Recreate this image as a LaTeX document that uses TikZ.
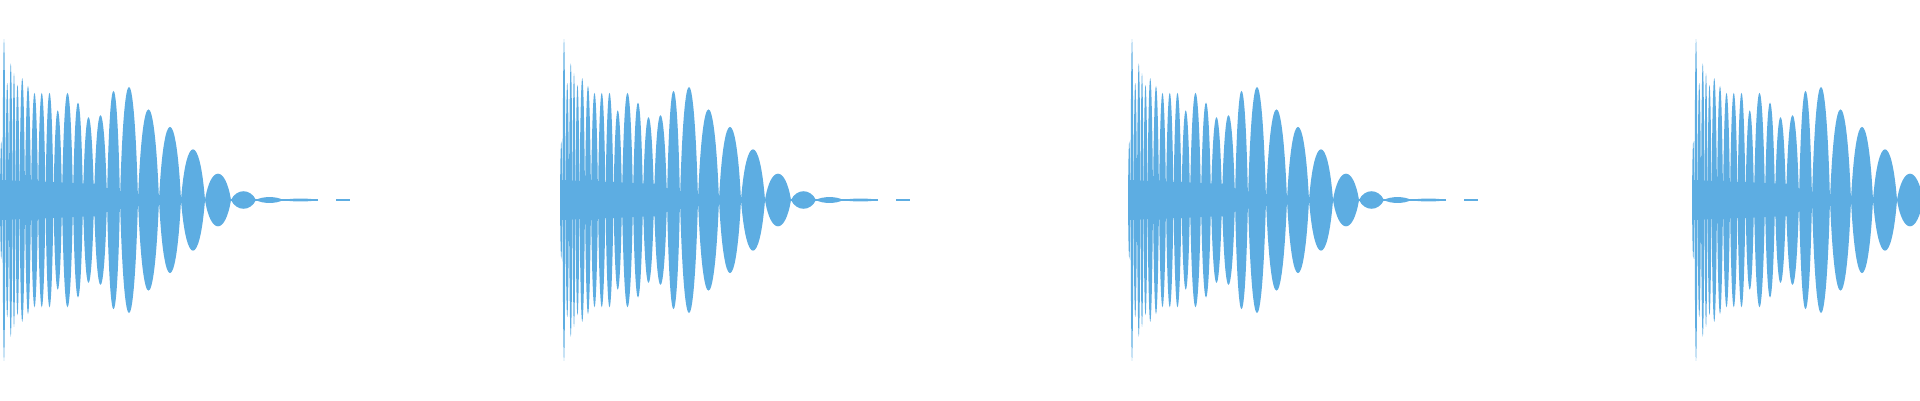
\documentclass[tikz,border=0pt]{standalone}
\definecolor{wave}{HTML}{5DADE2}
\begin{document}
\begin{tikzpicture}[x=1pt,y=-1pt]
\useasboundingbox (0,0) rectangle (1920,400);
\foreach \off in {0,560,1128,1692}{
  \begin{scope}[shift={(\off,0)}]
  \fill[wave] (0,180) -- (100,184) -- (120,196) -- (120,204) -- (100,216) -- (0,220) -- cycle;
  \fill[wave] (100,199) rectangle (318,201);
  \fill[wave] (336,199.3) rectangle (350,200.7);
  \foreach \za/\zb/\a in {0/2.5/60,2.5/5.5/165,5.5/9/120,9/12.5/140,12.5/15.5/130,15.5/19.5/118,19.5/25/125,25/31/117,31/38/110,38/45.5/110,45.5/53.5/110,53.5/62/92,62/73/110,73/83/100,83/94/85,94/107/87,107/120/112,120/138/116,138/159/93,159/181/75,181/205/52,205/231/27,231/256/9,256/283/3,283/318/1.5}{
    \pgfmathsetmacro\ca{\za+0.22*(\zb-\za)}
    \pgfmathsetmacro\cb{\zb-0.22*(\zb-\za)}
    \fill[wave] (\za,200) .. controls (\ca,200-1.3*\a) and (\cb,200-1.3*\a) .. (\zb,200)
       .. controls (\cb,200+1.3*\a) and (\ca,200+1.3*\a) .. cycle;
  }
  \end{scope}
}
\end{tikzpicture}
\end{document}
